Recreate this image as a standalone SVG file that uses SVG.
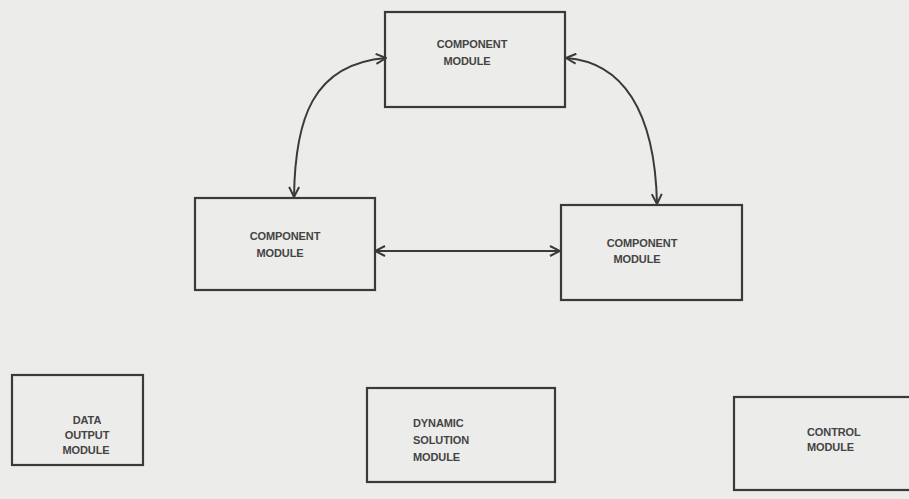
<svg xmlns="http://www.w3.org/2000/svg" width="909" height="499" viewBox="0 0 909 499">
<defs>
<style>
.bg{fill:#ececea}
.box{fill:none;stroke:#3a3a3a;stroke-width:2.2}
.lbl{font-family:"Liberation Sans",Arial,sans-serif;font-size:11px;font-weight:bold;fill:#444;letter-spacing:-0.1px}
.c{text-anchor:middle}
.conn{fill:none;stroke:#3a3a3a;stroke-width:2}
</style>
<marker id="ah" viewBox="0 0 12 12" refX="11" refY="6" markerWidth="12" markerHeight="12" markerUnits="userSpaceOnUse" orient="auto-start-reverse">
<path d="M1,1 L11,6 L1,11" fill="none" stroke="#3a3a3a" stroke-width="2"/>
</marker>
</defs>
<rect class="bg" x="0" y="0" width="909" height="499"/>
<g id="connectors">
<path class="conn" d="M294,197 C295,120 312,64 386,58" marker-start="url(#ah)" marker-end="url(#ah)"/>
<path class="conn" d="M566,58 C622,62 655,110 657,204" marker-start="url(#ah)" marker-end="url(#ah)"/>
<path class="conn" d="M375,251 L560,251" marker-start="url(#ah)" marker-end="url(#ah)"/>
</g>
<g id="comp-top">
<rect class="box" x="385" y="12" width="180" height="95"/>
<text class="lbl c" x="472" y="48">COMPONENT</text>
<text class="lbl c" x="467" y="65">MODULE</text>
</g>
<g id="comp-left">
<rect class="box" x="195" y="198" width="180" height="92"/>
<text class="lbl c" x="285" y="240">COMPONENT</text>
<text class="lbl c" x="280" y="257">MODULE</text>
</g>
<g id="comp-right">
<rect class="box" x="561" y="205" width="181" height="95"/>
<text class="lbl c" x="642" y="247">COMPONENT</text>
<text class="lbl c" x="637" y="263">MODULE</text>
</g>
<g id="data-output">
<rect class="box" x="12" y="375" width="131" height="90"/>
<text class="lbl c" x="87" y="424">DATA</text>
<text class="lbl c" x="87" y="439">OUTPUT</text>
<text class="lbl c" x="86" y="454">MODULE</text>
</g>
<g id="dynamic-solution">
<rect class="box" x="367" y="388" width="188" height="94"/>
<text class="lbl" x="413" y="427">DYNAMIC</text>
<text class="lbl" x="413" y="444">SOLUTION</text>
<text class="lbl" x="413" y="461">MODULE</text>
</g>
<g id="control">
<rect class="box" x="734" y="397" width="180" height="93"/>
<text class="lbl" x="807" y="436">CONTROL</text>
<text class="lbl" x="807" y="451">MODULE</text>
</g>
</svg>
